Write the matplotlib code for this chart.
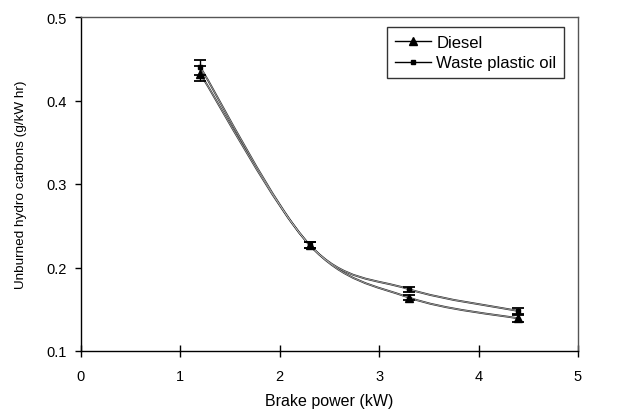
import matplotlib
matplotlib.use("Agg")
import matplotlib.pyplot as plt
from matplotlib.path import Path
from matplotlib.patches import PathPatch
from matplotlib.lines import Line2D
import numpy as np

plt.rcParams['font.family'] = ['Liberation Sans', 'DejaVu Sans']

power = [1.2, 2.3, 3.3, 4.4]
diesel = [0.432, 0.227, 0.164, 0.139]
diesel_err = [0.009, 0.004, 0.003, 0.004]
wpo = [0.440, 0.227, 0.174, 0.148]
wpo_err = [0.009, 0.004, 0.003, 0.004]

xticks = [0, 1, 2, 3, 4, 5]
yticks = [0.1, 0.2, 0.3, 0.4, 0.5]

fig = plt.figure(figsize=(6.26, 4.10), dpi=100)
ax = fig.add_axes([81/626, 1 - 352/410, (578-81)/626, (352-18)/410])
ax.set_xlim(0, 5)
ax.set_ylim(0.1, 0.5)


def smooth_path(xs, ys):
    pts = np.column_stack([xs, ys]).astype(float)
    sx, sy = 99.4, 835.0
    p = pts * [sx, sy]
    n = len(p)
    verts = [p[0]]
    codes = [Path.MOVETO]
    for i in range(n - 1):
        p0 = p[i - 1] if i > 0 else p[i]
        p1 = p[i]
        p2 = p[i + 1]
        p3 = p[i + 2] if i + 2 < n else p[i + 1]
        c1 = p1 + (p2 - p0) / 6
        c2 = p2 - (p3 - p1) / 6
        verts += [c1, c2, p2]
        codes += [Path.CURVE4] * 3
    verts = np.array(verts) / [sx, sy]
    return Path(verts, codes)


for ys, err, mk, ms in [(diesel, diesel_err, '^', 6), (wpo, wpo_err, 's', 3.5)]:
    ax.add_patch(PathPatch(smooth_path(power, ys), facecolor='none',
                           edgecolor='#333333', lw=1.4, zorder=2))
    ax.add_patch(PathPatch(smooth_path(power, ys), facecolor='none',
                           edgecolor='#c8c8c8', lw=0.4, zorder=2.1))
    ax.errorbar(power, ys, yerr=err, fmt='none', ecolor='black',
                elinewidth=1, capsize=4.5, capthick=1.3, zorder=3)
    ax.plot(power, ys, linestyle='none', marker=mk, ms=ms, color='black', zorder=4)

ax.set_xticks(xticks)
ax.set_xticklabels([str(t) for t in xticks])
ax.set_yticks(yticks)
ax.set_yticklabels([f"{t:.1f}" for t in yticks])
ax.tick_params(axis='y', direction='out', length=4, width=1, labelsize=10.5, colors='black', pad=6)
ax.tick_params(axis='x', direction='inout', length=8, width=1, labelsize=10.5, colors='black', pad=9)
for s in ax.spines.values():
    s.set_linewidth(1.0)
ax.spines['top'].set_color('#555555')
ax.spines['right'].set_color('#555555')

ax.set_xlabel('Brake power (kW)', fontsize=11.5, labelpad=7)
ax.set_ylabel('Unburned hydro carbons (g/kW hr)', fontsize=9.7, labelpad=14)

handles = [Line2D([], [], color='black', lw=1, marker='^', ms=6),
           Line2D([], [], color='black', lw=1, marker='s', ms=3)]
leg = ax.legend(handles, ['Diesel', 'Waste plastic oil'], loc='upper left',
                bbox_to_anchor=((387-81)/497, 1 - (28-18)/334), fontsize=12,
                frameon=True, fancybox=False, edgecolor='black', handlelength=2.2,
                handletextpad=0.3, borderpad=0.45, labelspacing=0.35, borderaxespad=0)
leg.get_frame().set_linewidth(1.0)

fig.savefig('out.png', dpi=100)
